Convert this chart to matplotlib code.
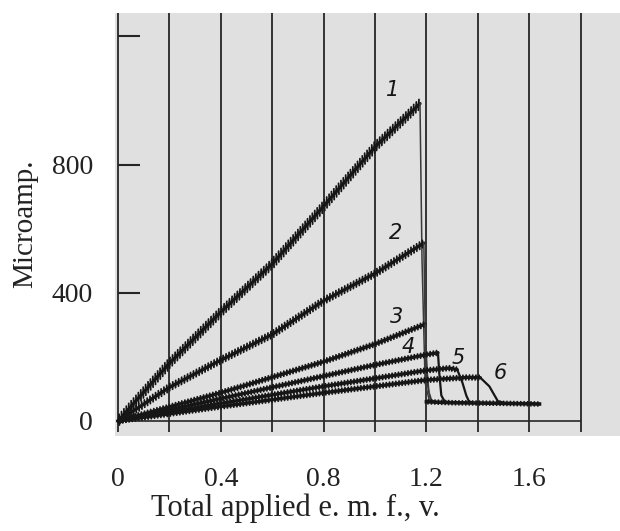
import matplotlib
matplotlib.use('Agg')
import matplotlib.pyplot as plt
import matplotlib.patheffects as pe

# polarograph traces, volts vs microamp
curve1_rise_v = [0, 0.2, 0.4, 0.6, 0.8, 1.0, 1.175]
curve1_rise_i = [0, 180, 340, 490, 670, 855, 990]
curve1_drop_v = [1.175, 1.183, 1.195, 1.21, 1.235]
curve1_drop_i = [990, 500, 120, 68, 58]

curve2_rise_v = [0, 0.2, 0.4, 0.6, 0.8, 1.0, 1.19]
curve2_rise_i = [0, 105, 190, 270, 375, 460, 555]
curve2_drop_v = [1.19, 1.195, 1.205, 1.215, 1.235]
curve2_drop_i = [555, 300, 110, 68, 58]

curve3_rise_v = [0, 0.4, 0.8, 1.0, 1.195]
curve3_rise_i = [0, 88, 185, 240, 302]
curve3_drop_v = [1.195, 1.2, 1.21, 1.22, 1.24]
curve3_drop_i = [302, 180, 90, 65, 57]

curve4_rise_v = [0, 0.4, 0.8, 1.0, 1.2, 1.245]
curve4_rise_i = [0, 70, 140, 175, 207, 213]
curve4_drop_v = [1.245, 1.25, 1.258, 1.27, 1.29]
curve4_drop_i = [213, 150, 80, 62, 57]

curve5_rise_v = [0, 0.4, 0.8, 1.2, 1.29, 1.32]
curve5_rise_i = [0, 55, 108, 158, 165, 160]
curve5_drop_v = [1.32, 1.34, 1.355, 1.365, 1.38]
curve5_drop_i = [160, 120, 80, 62, 57]

curve6_rise_v = [0, 0.4, 0.8, 1.2, 1.36, 1.41]
curve6_rise_i = [0, 45, 88, 128, 136, 135]
curve6_drop_v = [1.41, 1.445, 1.465, 1.478, 1.5]
curve6_drop_i = [135, 108, 80, 62, 57]

residual_v = [1.2, 1.3, 1.4, 1.5, 1.64]
residual_i = [60, 57, 56, 55, 53]

curve_names = ['1', '2', '3', '4', '5', '6']
name_v = [1.07, 1.078, 1.084, 1.128, 1.323, 1.486]
name_i = [1032, 586, 325, 232, 197, 150]

grid_v = [0, 0.2, 0.4, 0.6, 0.8, 1.0, 1.2, 1.4, 1.6, 1.8]
xticks = [0, 0.4, 0.8, 1.2, 1.6]
xtick_labels = ['0', '0.4', '0.8', '1.2', '1.6']
yticks = [0, 400, 800]
ymarks = [400, 800, 1200]

rises = [(curve1_rise_v, curve1_rise_i), (curve2_rise_v, curve2_rise_i),
         (curve3_rise_v, curve3_rise_i), (curve4_rise_v, curve4_rise_i),
         (curve5_rise_v, curve5_rise_i), (curve6_rise_v, curve6_rise_i)]
drops = [(curve1_drop_v, curve1_drop_i), (curve2_drop_v, curve2_drop_i),
         (curve3_drop_v, curve3_drop_i), (curve4_drop_v, curve4_drop_i),
         (curve5_drop_v, curve5_drop_i), (curve6_drop_v, curve6_drop_i)]

# zigzag look of the dropping-electrode oscillations
tick_angle = [43, 60, 73, 78, 81, 82]
tick_space = [2.6, 2.4, 2.3, 2.3, 2.3, 2.3]
tick_len = [1.5, 1.1, 0.8, 0.75, 0.75, 0.75]

ink = '#161616'
serif = 'Liberation Serif'

fig = plt.figure(figsize=(6.2, 5.31), dpi=100)
fig.patch.set_facecolor('white')
ax = fig.add_axes([115 / 620, 95 / 531, 505 / 620, 423 / 531])
ax.set_facecolor('#e0e0e0')
ax.set_xlim(-0.0117, 1.9533)
ax.set_ylim(-46.8, 1272.6)
for s in ax.spines.values():
    s.set_visible(False)

ax.vlines(grid_v, -34, 1272.6, color='#262626', lw=1.3, zorder=1)
ax.hlines(0, -0.005, 1.8, color='#262626', lw=1.2, zorder=1)
ax.hlines(ymarks, 0, 0.085, color='#262626', lw=1.5, zorder=1)

for k in range(6):
    v, i = rises[k]
    fx = [pe.Normal(),
          pe.TickedStroke(spacing=tick_space[k], angle=tick_angle[k],
                          length=tick_len[k], linewidth=1.3),
          pe.TickedStroke(spacing=tick_space[k], angle=tick_angle[k] - 180,
                          length=tick_len[k], linewidth=1.3)]
    ax.plot(v, i, color=ink, lw=2.4, solid_capstyle='round',
            path_effects=fx, zorder=3)
    dv, di = drops[k]
    ax.plot(dv, di, color='#3a3a3a' if k < 3 else ink, lw=1.1 if k < 3 else 1.6,
            zorder=3)

ax.plot(residual_v, residual_i, color=ink, lw=2.6, zorder=3,
        path_effects=[pe.Normal(),
                      pe.TickedStroke(spacing=2.4, angle=90, length=0.6, linewidth=1.1),
                      pe.TickedStroke(spacing=2.4, angle=-90, length=0.6, linewidth=1.1)])

for n, x, y in zip(curve_names, name_v, name_i):
    ax.text(x, y, n, fontsize=15, style='italic', family='DejaVu Sans',
            color=ink, ha='center', va='center', zorder=4)

ax.set_xticks(xticks)
ax.set_xticklabels(xtick_labels, family=serif, fontsize=20, color='#222222')
ax.set_yticks(yticks)
ax.set_yticklabels([str(t) for t in yticks], family=serif, fontsize=20, color='#222222')
ax.tick_params(axis='x', length=0, pad=22)
ax.tick_params(axis='y', length=0, pad=16)

fig.text(295 / 620, 1 - 508 / 531, 'Total applied e. m. f., v.', family=serif,
         fontsize=22, color='#222222', ha='center', va='center')
fig.text(25 / 620, 1 - 224 / 531, 'Microamp.', family=serif, fontsize=21,
         color='#222222', ha='center', va='center', rotation=90)

fig.savefig('out.png', dpi=100)
